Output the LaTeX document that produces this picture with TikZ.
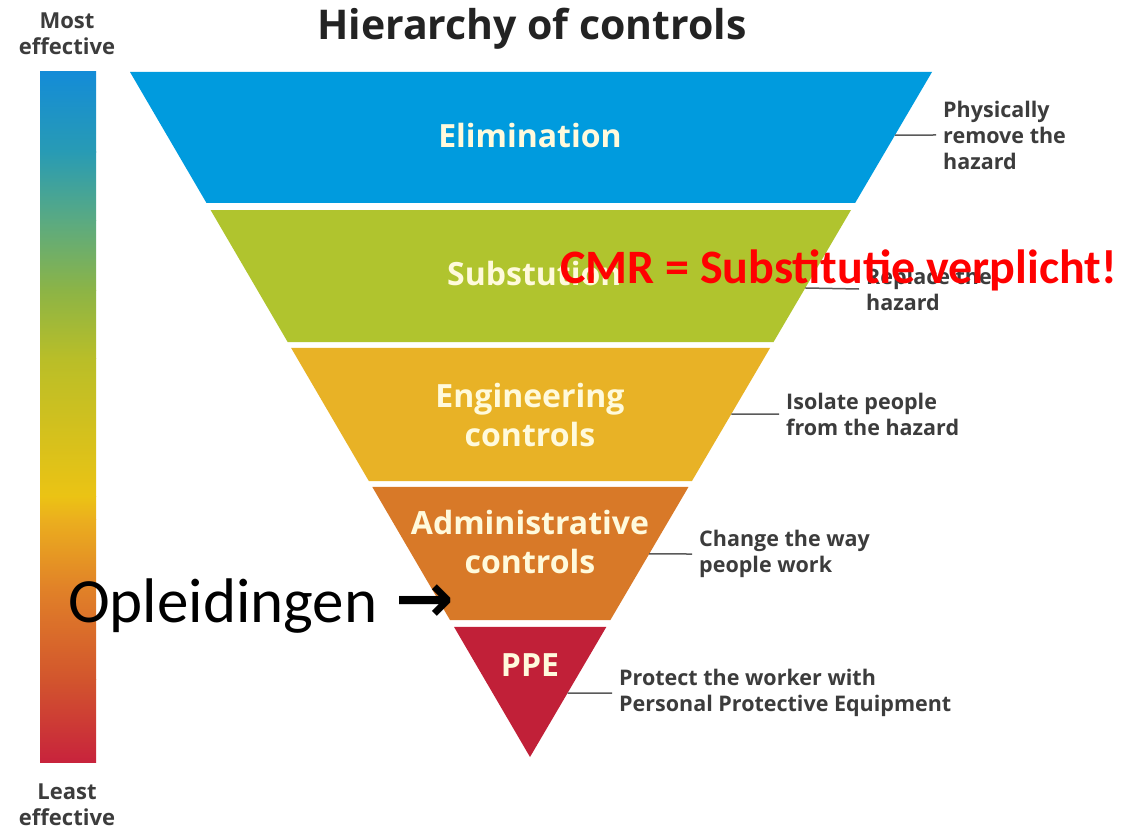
\documentclass[tikz,border=0pt]{standalone}
\usepackage{fontspec}
\usetikzlibrary{calc}
\newfontfamily\osans{Open Sans}
\newfontfamily\carl{Carlito}
\newfontfamily\djv{DejaVu Sans}
\definecolor{cBlue}{RGB}{0,155,222}
\definecolor{cGreen}{RGB}{176,196,46}
\definecolor{cYellow}{RGB}{232,178,38}
\definecolor{cOrange}{RGB}{216,121,40}
\definecolor{cRed}{RGB}{193,32,56}
\definecolor{cCream}{RGB}{255,250,220}
\definecolor{cText}{RGB}{60,60,60}
\definecolor{cTitle}{RGB}{35,35,35}
\definecolor{cLine}{RGB}{90,90,90}
\definecolor{g0}{RGB}{20,140,215}
\definecolor{g1}{RGB}{40,155,180}
\definecolor{g2}{RGB}{90,170,130}
\definecolor{g3}{RGB}{140,180,70}
\definecolor{g4}{RGB}{185,190,40}
\definecolor{g5}{RGB}{235,195,20}
\definecolor{g6}{RGB}{235,175,30}
\definecolor{g7}{RGB}{225,130,40}
\definecolor{g8}{RGB}{210,85,45}
\definecolor{g9}{RGB}{200,35,60}
\tikzset{
  bandtxt/.style={text=cCream, font=\osans\bfseries\fontsize{32}{39}\selectfont, align=center, inner sep=0pt},
  sidetxt/.style={text=cText, font=\osans\bfseries\fontsize{21.5}{26}\selectfont, align=left, anchor=west, inner sep=0pt},
  endtxt/.style={text=cText, font=\osans\bfseries\fontsize{22}{26}\selectfont, align=center, inner sep=0pt},
  leader/.style={draw=cLine, line width=1.5pt},
}
\begin{document}
\begin{tikzpicture}[x=1pt,y=-1pt]
\useasboundingbox (0,0) rectangle (1140,829);
\fill[white] (0,0) rectangle (1140,829);

% gradient bar
\shade[top color=g0, bottom color=g1] (40,72) rectangle (96,152.5);
\shade[top color=g1, bottom color=g2] (40,152) rectangle (96,220.5);
\shade[top color=g2, bottom color=g3] (40,220) rectangle (96,290.5);
\shade[top color=g3, bottom color=g4] (40,290) rectangle (96,358.5);
\shade[top color=g4, bottom color=g5] (40,358) rectangle (96,496.5);
\shade[top color=g5, bottom color=g6] (40,496) rectangle (96,519.5);
\shade[top color=g6, bottom color=g7] (40,519) rectangle (96,587.5);
\shade[top color=g7, bottom color=g8] (40,587) rectangle (96,679.5);
\shade[top color=g8, bottom color=g9] (40,679) rectangle (96,762);

% pyramid
\coordinate (TL) at (130,72);
\coordinate (TR) at (932,72);
\coordinate (A) at (530,757);
\fill[cBlue] (TL) -- (TR) -- ($(TR)!0.1912!(A)$) -- ($(TL)!0.1912!(A)$) -- cycle;
\fill[cGreen] ($(TL)!0.2015!(A)$) -- ($(TR)!0.2015!(A)$) -- ($(TR)!0.3942!(A)$) -- ($(TL)!0.3942!(A)$) -- cycle;
\fill[cYellow] ($(TL)!0.4029!(A)$) -- ($(TR)!0.4029!(A)$) -- ($(TR)!0.5971!(A)$) -- ($(TL)!0.5971!(A)$) -- cycle;
\fill[cOrange] ($(TL)!0.6058!(A)$) -- ($(TR)!0.6058!(A)$) -- ($(TR)!0.8!(A)$) -- ($(TL)!0.8!(A)$) -- cycle;
\fill[cRed] ($(TL)!0.8102!(A)$) -- ($(TR)!0.8102!(A)$) -- (A) -- cycle;

% title and end labels
\node[text=cTitle, font=\osans\bfseries\fontsize{41}{44}\selectfont, anchor=base, inner sep=0pt] (title) at (532,40) {Hierarchy of controls};
\node[endtxt] (most) at (67,34) {Most\\effective};
\node[endtxt] (least) at (67,805) {Least\\effective};

% band labels
\node[bandtxt] (elim) at (530,136) {Elimination};
\node[bandtxt, anchor=base west] (subst) at (447,285) {Substution};
\node[bandtxt] (eng) at (530,415) {Engineering\\controls};
\node[bandtxt] (adm) at (530,542) {Administrative\\controls};
\node[bandtxt] (ppe) at (530,665) {PPE};

% side labels
\node[sidetxt] (elimR) at (943,135) {Physically\\remove the\\hazard};
\node[sidetxt] (subR) at (866,289) {Replace the\\hazard};
\node[sidetxt] (engR) at (786,414) {Isolate people\\from the hazard};
\node[sidetxt] (admR) at (699,554) {Change the way\\people work};
\node[sidetxt] (ppeR) at (619,693) {Protect the worker with\\Personal Protective Equipment};

\coordinate (e1) at ($(TR)!0.0920!(A)$);
\coordinate (e2) at ($(TR)!0.3153!(A)$);
\coordinate (e3) at ($(TR)!0.4993!(A)$);
\coordinate (e4) at ($(TR)!0.7036!(A)$);
\coordinate (e5) at ($(TR)!0.9066!(A)$);
\draw[leader] (e1) -- ([xshift=-7pt]elimR.west);
\draw[leader] (e2) -- ([xshift=-7pt]subR.west);
\draw[leader] (e3) -- ([xshift=-7pt]engR.west);
\draw[leader] (e4) -- ([xshift=-7pt]admR.west);
\draw[leader] (e5) -- ([xshift=-7pt]ppeR.west);

% overlays
\node[text=red, font=\carl\bfseries\fontsize{48}{50}\selectfont, anchor=base west, inner sep=0pt] (cmr) at (560,283) {CMR = Substitutie verplicht!};
\node[text=black, font=\carl\fontsize{63}{66}\selectfont, anchor=base west, inner sep=0pt] (opl) at (68,622) {Opleidingen\hspace{18pt}{\djv\bfseries\fontsize{70}{72}\selectfont →}};
\end{tikzpicture}
\end{document}
